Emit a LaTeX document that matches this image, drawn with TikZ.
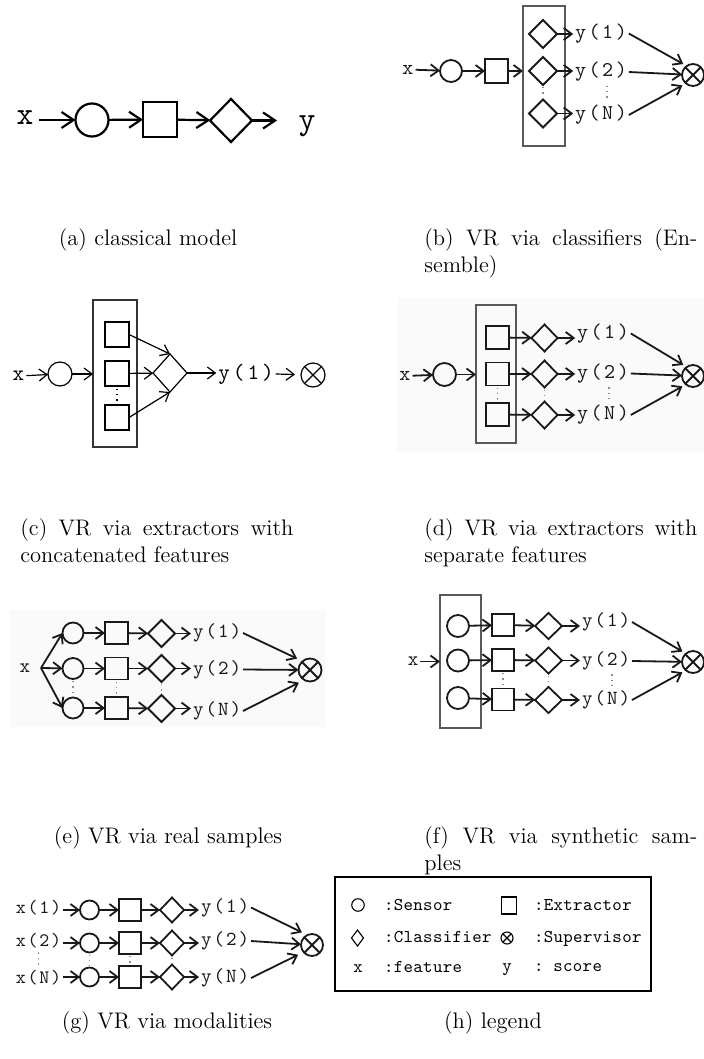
\documentclass[tikz,border=0pt]{standalone}
\usepackage{fontspec}
\setmonofont{lmmono10-regular.otf}
\usetikzlibrary{arrows.meta,shapes.geometric}

\tikzset{
  sensor/.style={circle,draw,inner sep=0pt,outer sep=0pt,minimum size=#1},
  extractor/.style 2 args={rectangle,draw,inner sep=0pt,outer sep=0pt,minimum width=#1,minimum height=#2},
  classifier/.style 2 args={diamond,draw,inner sep=0pt,outer sep=0pt,minimum width=#1,minimum height=#2},
  supervisor/.style={circle,draw,inner sep=0pt,outer sep=0pt,minimum size=#1,
    path picture={\draw (path picture bounding box.north west) -- (path picture bounding box.south east)
                        (path picture bounding box.north east) -- (path picture bounding box.south west);}},
  stack/.style 2 args={rectangle,draw=black!65,line width=1pt,inner sep=0pt,outer sep=0pt,
    minimum width=#1,minimum height=#2},
  lbl/.style 2 args={font=\ttfamily\fontsize{#1}{#1}\selectfont\addfontfeatures{LetterSpace=#2},
    inner sep=1pt,outer sep=0pt},
  lblA/.style={lbl={16pt}{0}},
  lblB/.style={lbl={10.5pt}{12}},
  lblC/.style={lbl={11pt}{14}},
  lblE/.style={lbl={10pt}{10}},
  lblG/.style={lbl={9.5pt}{9}},
  lblL/.style={lbl={9pt}{2}},
  flow/.style={-{Straight Barb[length=4pt,width=6pt]}},
  bigflow/.style={-{Straight Barb[length=6pt,width=8pt]}},
  vdots/.style={line width=0.7pt,dotted,black!45,shorten <=1pt,shorten >=1pt},
  capt/.style={font=\fontsize{11.25pt}{13.5pt}\selectfont,inner sep=0pt,anchor=base west},
}

\begin{document}
\begin{tikzpicture}[x=0.5pt,y=-0.5pt]
\useasboundingbox (0,0) rectangle (704,1059);

% light backdrops behind two of the panels
\fill[black!2] (397,298) rectangle (704,452);
\fill[black!2] (10,610) rectangle (325,727);

% ---------- (a) classical model ----------
\begin{scope}[line width=1.1pt]
  \node[lblA,anchor=base] (a-x) at (25,125) {x};
  \node[sensor=16.5pt] (a-s) at (92,120) {};
  \node[extractor={17pt}{17.5pt}] (a-e) at (160,119.5) {};
  \node[classifier={21pt}{21.5pt}] (a-c) at (231,120.5) {};
  \node[lblA,anchor=base] (a-y) at (307,130) {y};
  \coordinate (a-end) at (277,120.5);
  \draw[bigflow,shorten <=2pt] (a-x.east |- a-s) -- (a-s);
  \draw[bigflow] (a-s) -- (a-e);
  \draw[bigflow] (a-e) -- (a-c);
  \draw[bigflow] (a-c) -- (a-end);
\end{scope}

% ---------- (b) classifiers ----------
\begin{scope}[line width=0.9pt,black!90]
  \node[lblB] (b-x) at (408,69.5) {x};
  \node[sensor=11pt] (b-s) at (451,71) {};
  \node[extractor={11.5pt}{12pt}] (b-e) at (496.5,71) {};
  \node[stack={21pt}{70pt}] (b-box) at (544,76) {};
  \node[classifier={14pt}{14pt}] (b-c1) at (543,34) {};
  \node[classifier={14pt}{14pt}] (b-c2) at (543,71) {};
  \node[classifier={14pt}{14pt}] (b-cN) at (543,113.5) {};
  \node[lblB] (b-y1) at (601,33.5) {y(1)};
  \node[lblB] (b-y2) at (601,72) {y(2)};
  \node[lblB] (b-yN) at (601,115) {y(N)};
  \node[supervisor=11pt] (b-v) at (693,75) {};
  \draw[flow] (b-x) -- (b-s);
  \draw[flow] (b-s) -- (b-e);
  \draw[flow] (b-e) -- (b-e -| b-box.west);
  \foreach \i in {1,2,N} \draw[flow] (b-c\i) -- (b-c\i -| b-y\i.west);
  \draw[vdots] (b-c2.south) -- (b-cN.north);
  \draw[vdots] ([xshift=3pt]b-y2.south) -- ([xshift=3pt]b-yN.north);
  \draw[flow,shorten >=2pt] (b-y1.east) -- (b-v.125);
  \draw[flow] (b-y2.east) -- (b-v);
  \draw[flow,shorten >=2pt] (b-yN.east) -- (b-v.230);
\end{scope}

% ---------- (c) extractors, concatenated features ----------
\begin{scope}[line width=0.6pt]
  \node[lblC] (c-x) at (18.5,376) {x};
  \node[sensor=12pt] (c-s) at (60,374) {};
  \node[stack={22pt}{73.5pt},draw=black!80,line width=0.7pt] (c-box) at (115,373.5) {};
  \node[extractor={12pt}{12.5pt}] (c-e1) at (117,334.5) {};
  \node[extractor={12pt}{12.5pt}] (c-e2) at (117,373.5) {};
  \node[extractor={12pt}{12.5pt}] (c-e3) at (117,417.5) {};
  \node[classifier={17pt}{19pt}] (c-c) at (170,373) {};
  \node[lblC] (c-y) at (246,374) {y(1)};
  \node[supervisor=12pt] (c-v) at (313,375) {};
  \draw[flow] (c-x) -- (c-s);
  \draw[flow] (c-s) -- (c-s -| c-box.west);
  \draw[flow] (c-e1.east) -- (c-c.north);
  \draw[flow] (c-e2) -- (c-c);
  \draw[flow] (c-e3.east) -- (c-c.south);
  \draw[flow] (c-c) -- (c-c -| c-y.west);
  \draw[flow,shorten >=3pt] (c-y.east) -- (c-v);
  \draw[line width=0.6pt,dotted,shorten <=1.5pt,shorten >=1.5pt] (c-e2.south) -- (c-e3.north);
\end{scope}

% ---------- (d) extractors, separate features ----------
\begin{scope}[line width=0.9pt,black!90]
  \node[lblB] (d-x) at (405,376) {x};
  \node[sensor=11.5pt] (d-s) at (444.5,374.5) {};
  \node[stack={20pt}{69pt}] (d-box) at (496,374) {};
  \node[extractor={11.5pt}{11.5pt}] (d-e1) at (497.5,337.5) {};
  \node[extractor={11.5pt}{11.5pt}] (d-e2) at (497.5,374) {};
  \node[extractor={11.5pt}{11.5pt}] (d-e3) at (497.5,414.5) {};
  \node[classifier={13pt}{13.5pt}] (d-c1) at (544.5,338) {};
  \node[classifier={13pt}{13.5pt}] (d-c2) at (544.5,374) {};
  \node[classifier={13pt}{13.5pt}] (d-c3) at (544.5,415) {};
  \node[lblB] (d-y1) at (603,333.5) {y(1)};
  \node[lblB] (d-y2) at (603,373.5) {y(2)};
  \node[lblB] (d-y3) at (603,415) {y(N)};
  \node[supervisor=11pt] (d-v) at (693,376) {};
  \draw[flow] (d-x) -- (d-s);
  \draw[flow] (d-s) -- (d-s -| d-box.west);
  \foreach \i in {1,2,3} {
    \draw[flow] (d-e\i) -- (d-c\i);
    \draw[flow] (d-c\i) -- (d-c\i -| d-y\i.west);
  }
  \draw[vdots] (d-e2.south) -- (d-e3.north);
  \draw[vdots] (d-c2.south) -- (d-c3.north);
  \draw[vdots] ([xshift=3pt]d-y2.south) -- ([xshift=3pt]d-y3.north);
  \draw[flow,shorten >=2pt] (d-y1.east) -- (d-v.125);
  \draw[flow] (d-y2.east) -- (d-v);
  \draw[flow,shorten >=2pt] (d-y3.east) -- (d-v.230);
\end{scope}

% ---------- (e) real samples ----------
\begin{scope}[line width=0.9pt,black!90]
  \node[lblE] (e-x) at (25,668) {x};
  \coordinate (e-b) at (41,668);
  \node[sensor=10.5pt] (e-s1) at (73,633) {};
  \node[sensor=10.5pt] (e-s2) at (73,668.5) {};
  \node[sensor=10.5pt] (e-s3) at (73,708) {};
  \node[extractor={11.5pt}{11pt}] (e-e1) at (116.5,633) {};
  \node[extractor={11.5pt}{11pt}] (e-e2) at (116.5,668.5) {};
  \node[extractor={11.5pt}{11pt}] (e-e3) at (116.5,708) {};
  \node[classifier={13.5pt}{13.5pt}] (e-c1) at (161.5,633.5) {};
  \node[classifier={13.5pt}{13.5pt}] (e-c2) at (161.5,668.5) {};
  \node[classifier={13.5pt}{13.5pt}] (e-c3) at (161.5,708.5) {};
  \node[lblE] (e-y1) at (217,633) {y(1)};
  \node[lblE] (e-y2) at (217,669.5) {y(2)};
  \node[lblE] (e-y3) at (217,711) {y(N)};
  \node[supervisor=11.5pt] (e-v) at (310,670) {};
  \draw[flow] (e-b) -- (e-s1.west);
  \draw[flow] (e-b) -- (e-s2);
  \draw[flow] (e-b) -- (e-s3.west);
  \foreach \i in {1,2,3} {
    \draw[flow] (e-s\i) -- (e-e\i);
    \draw[flow] (e-e\i) -- (e-c\i);
    \draw[flow] (e-c\i) -- (e-c\i -| e-y\i.west);
  }
  \draw[vdots] (e-s2.south) -- (e-s3.north);
  \draw[vdots] (e-e2.south) -- (e-e3.north);
  \draw[vdots] (e-c2.south) -- (e-c3.north);
  \draw[flow,shorten >=3pt] (e-y1.east) -- (e-v.130);
  \draw[flow] (e-y2.east) -- (e-v);
  \draw[flow,shorten >=3pt] (e-y3.east) -- (e-v.240);
\end{scope}

% ---------- (f) synthetic samples ----------
\begin{scope}[line width=0.9pt,black!90]
  \node[lblE] (f-x) at (413,661.5) {x};
  \node[stack={20.5pt}{66.5pt}] (f-box) at (460.5,661.5) {};
  \node[sensor=11pt] (f-s1) at (458,626) {};
  \node[sensor=11pt] (f-s2) at (458,660.5) {};
  \node[sensor=11pt] (f-s3) at (458,698) {};
  \node[extractor={11pt}{11pt}] (f-e1) at (503,625) {};
  \node[extractor={11pt}{11pt}] (f-e2) at (503,660) {};
  \node[extractor={11pt}{11pt}] (f-e3) at (503,699.5) {};
  \node[classifier={13.5pt}{13pt}] (f-c1) at (548.5,626) {};
  \node[classifier={13.5pt}{13pt}] (f-c2) at (548.5,660.5) {};
  \node[classifier={13.5pt}{13pt}] (f-c3) at (548.5,700) {};
  \node[lblE] (f-y1) at (606,622) {y(1)};
  \node[lblE] (f-y2) at (606,661) {y(2)};
  \node[lblE] (f-y3) at (606,700) {y(N)};
  \node[supervisor=11pt] (f-v) at (693,662) {};
  \draw[flow] (f-x) -- (f-x -| f-box.west);
  \foreach \i in {1,2,3} {
    \draw[flow] (f-s\i) -- (f-e\i);
    \draw[flow] (f-e\i) -- (f-c\i);
    \draw[flow] (f-c\i) -- (f-c\i -| f-y\i.west);
  }
  \draw[vdots] (f-e2.south) -- (f-e3.north);
  \draw[vdots] (f-c2.south) -- (f-c3.north);
  \draw[vdots] ([xshift=3pt]f-y2.south) -- ([xshift=3pt]f-y3.north);
  \draw[flow,shorten >=2pt] (f-y1.east) -- (f-v.130);
  \draw[flow] (f-y2.east) -- (f-v);
  \draw[flow,shorten >=2pt] (f-y3.east) -- (f-v.230);
\end{scope}

% ---------- (g) modalities ----------
\begin{scope}[line width=0.9pt,black!90]
  \foreach \i/\t/\r/\ry in {1/1/910/907.5, 2/2/943/941, 3/N/977/978} {
    \node[lblG] (g-x\i) at (38.5,\ry) {x(\t)};
    \node[sensor=9.5pt] (g-s\i) at (89.5,\r) {};
    \node[extractor={11pt}{11pt}] (g-e\i) at (130,\r) {};
    \node[classifier={12pt}{12.5pt}] (g-c\i) at (172,\r) {};
    \node[lblE] (g-y\i) at (225,\ry) {y(\t)};
  }
  \node[supervisor=11pt] (g-v) at (312,945) {};
  \foreach \i in {1,2,3} {
    \draw[flow] (g-x\i.east |- g-s\i) -- (g-s\i);
    \draw[flow] (g-s\i) -- (g-e\i);
    \draw[flow] (g-e\i) -- (g-c\i);
    \draw[flow] (g-c\i) -- (g-c\i -| g-y\i.west);
  }
  \draw[vdots] (g-x2.south) -- (g-x3.north);
  \draw[vdots] (g-s2.south) -- (g-s3.north);
  \draw[vdots] (g-e2.south) -- (g-e3.north);
  \draw[vdots] (g-c2.south) -- (g-c3.north);
  \draw[flow,shorten >=3pt] (g-y1.east) -- (g-v.115);
  \draw[flow] (g-y2.east) -- (g-v);
  \draw[flow,shorten >=3pt] (g-y3.east) -- (g-v.220);
\end{scope}

% ---------- (h) legend ----------
\begin{scope}[line width=0.55pt]
  \node[draw,line width=0.7pt,inner sep=0pt,minimum width=158pt,minimum height=57pt] (h-box) at (493,934) {};
  \node[sensor=6.25pt] (h-s) at (358,905) {};
  \node[lblL,anchor=base west] (h-st) at (382,910) {:Sensor};
  \node[extractor={7.5pt}{8.5pt}] (h-e) at (509,905.5) {};
  \node[lblL,anchor=base west] (h-et) at (532,910) {:Extractor};
  \node[classifier={6pt}{8pt}] (h-c) at (357.5,938) {};
  \node[lblL,anchor=base west] (h-ct) at (382,942) {:Classifier};
  \node[supervisor=6pt] (h-v) at (507,938) {};
  \node[lblL,anchor=base west] (h-vt) at (532,942) {:Supervisor};
  \node[lblL,anchor=base] (h-x) at (358,972) {x};
  \node[lblL,anchor=base west] (h-xt) at (382,972) {:feature};
  \node[lblL,anchor=base] (h-y) at (507,971) {y};
  \node[lblL,anchor=base west] (h-yt) at (532,971) {: score};
\end{scope}

% ---------- captions ----------
\node[capt,anchor=base] (a-cap) at (148,245) {(a) classical model};
\node[capt] (b-cap1) at (424,245) {\makebox[136.5pt][s]{(b) VR via classifiers (En-}};
\node[capt] (b-cap2) at (424,272) {semble)};
\node[capt] (c-cap1) at (20,535) {\makebox[136.5pt][s]{(c) VR via extractors with}};
\node[capt] (c-cap2) at (20,562) {concatenated features};
\node[capt] (d-cap1) at (424,535) {\makebox[136.5pt][s]{(d) VR via extractors with}};
\node[capt] (d-cap2) at (424,562) {separate features};
\node[capt,anchor=base] (e-cap) at (168,843) {(e) VR via real samples};
\node[capt] (f-cap1) at (424,843) {\makebox[136.5pt][s]{(f) VR via synthetic sam-}};
\node[capt] (f-cap2) at (424,870) {ples};
\node[capt,anchor=base] (g-cap) at (167,1028) {(g) VR via modalities};
\node[capt,anchor=base] (h-cap) at (493,1028) {(h) legend};
\end{tikzpicture}
\end{document}
